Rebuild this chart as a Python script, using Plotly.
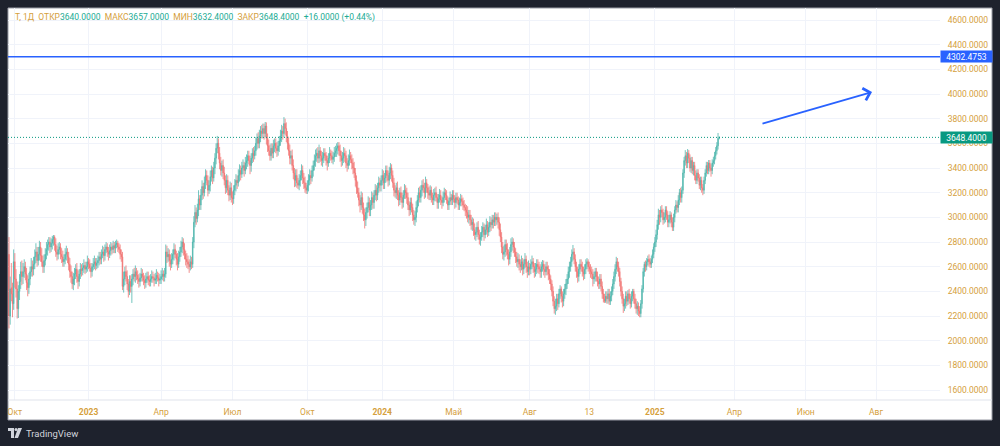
import plotly.graph_objects as go

# ---------------- data (daily candles, bar index based like TradingView) ----------------
open_ = [
    2700, 2200, 2430, 2380, 2300, 2640, 2500, 2420, 2260, 2400, 2480, 2560,
    2520, 2560, 2600, 2540, 2470, 2430, 2500, 2560, 2600,
    2580, 2620, 2680, 2720, 2650, 2700, 2760, 2690, 2640, 2600, 2650, 2700,
    2740, 2780, 2800, 2760, 2790, 2820, 2840, 2780, 2720, 2700, 2740, 2760, 2700, 2680, 2640, 2660, 2700, 2720,
    2680, 2620, 2560, 2520, 2460, 2500, 2540, 2580, 2520, 2480, 2540,
    2580, 2570, 2590, 2610, 2580, 2600, 2640, 2620, 2590, 2560, 2600, 2620, 2640, 2610, 2630, 2650, 2680,
    2660, 2700, 2720, 2690, 2740, 2760, 2720, 2700, 2730, 2760, 2740, 2770, 2750, 2780, 2790, 2760, 2740,
    2700, 2680, 2440, 2500, 2560, 2520, 2460, 2400, 2480, 2440,
    2500, 2540, 2520, 2560, 2530, 2500, 2480, 2510, 2540, 2520, 2490, 2470, 2500, 2520, 2490, 2480, 2500, 2520, 2510, 2490, 2500, 2530, 2510, 2490, 2500, 2520, 2540, 2520,
    2540, 2720, 2680, 2700, 2650, 2620, 2660, 2700, 2740, 2700, 2660, 2620, 2680, 2720, 2760, 2800, 2740, 2700, 2660, 2640, 2620, 2600, 2640,
    2620, 2800, 2960, 3040, 2990, 3060, 3150, 3100, 3180, 3250, 3200, 3280, 3340, 3300, 3220, 3260, 3330, 3380, 3320, 3400,
    3480, 3560, 3600, 3520, 3440, 3380, 3420, 3360, 3300, 3240, 3300, 3220, 3180, 3240, 3160,
    3150, 3220, 3260, 3300, 3280, 3340, 3380, 3350, 3400, 3420, 3380, 3440,
    3460, 3500, 3460, 3420, 3480, 3520, 3500, 3540,
    3600, 3640, 3600, 3660, 3700, 3680, 3720, 3680, 3740,
    3640, 3580, 3540, 3500, 3560, 3520, 3580, 3600, 3560, 3540,
    3580, 3620, 3660, 3700, 3680, 3760, 3720,
    3660, 3600, 3540, 3480, 3500, 3420, 3360, 3300, 3340, 3280, 3260,
    3300, 3340, 3380, 3320, 3280, 3240, 3220, 3260, 3300, 3340, 3320,
    3380, 3420, 3460, 3500, 3520, 3480, 3540, 3500, 3460, 3480, 3520, 3500, 3460, 3440, 3480, 3520, 3500, 3470, 3490, 3520, 3540,
    3560, 3580, 3540, 3500, 3460, 3480, 3520, 3500, 3440, 3420, 3460, 3500, 3470,
    3440, 3400, 3360, 3300, 3240, 3200, 3140, 3100, 3160, 3080, 3020, 2980,
    3040, 3080, 3120, 3060, 3100, 3160, 3120, 3180, 3220, 3180, 3240, 3280,
    3260, 3300, 3340, 3280, 3320, 3380, 3340, 3300, 3360, 3400, 3340, 3280, 3220,
    3200, 3240, 3180, 3140, 3200, 3160, 3120, 3180, 3220, 3200, 3160, 3100, 3060, 3120, 3080, 3020,
    2980, 3000, 3080, 3140, 3200, 3160, 3220, 3260, 3240, 3200, 3280, 3240, 3200, 3180, 3220, 3160, 3140,
    3180, 3200, 3160, 3120, 3150, 3180, 3140, 3120, 3160, 3200, 3180, 3140, 3100, 3130, 3160, 3140, 3180, 3150, 3120, 3160, 3140, 3100, 3120, 3150, 3130, 3100, 3080,
    3060, 3040, 3000, 3020, 2980, 2940, 2960, 2900, 2860, 2880, 2920, 2860, 2820, 2840, 2880, 2920, 2860, 2900, 2940, 2880, 2920, 2960, 2940, 2980, 2960,
    3000, 2980, 3000, 2960, 2900, 2840, 2760, 2700, 2720, 2780, 2740, 2700, 2660, 2720, 2780, 2800, 2760, 2720, 2680, 2640, 2660,
    2620, 2600, 2640, 2580, 2620, 2660, 2600, 2560, 2600, 2580, 2620, 2640, 2600, 2560, 2580, 2620, 2600, 2580,
    2560, 2600, 2620, 2580, 2560, 2600, 2580, 2540, 2500,
    2460, 2400, 2320, 2260,
    2280, 2340, 2300, 2380, 2420, 2360, 2320, 2380, 2420,
    2460, 2500, 2560, 2600, 2640, 2700,
    2720, 2660, 2600, 2560, 2520, 2580, 2620, 2600, 2560, 2540, 2580, 2620, 2640, 2600, 2580,
    2560, 2540, 2500, 2520, 2560, 2520, 2480, 2460,
    2500, 2440, 2380, 2340, 2320, 2360,
    2340, 2380, 2320, 2360,
    2400, 2460, 2520, 2580, 2640, 2600,
    2560, 2480, 2400, 2340, 2280, 2300, 2360,
    2320, 2380, 2340, 2300, 2360, 2400, 2340, 2300, 2260, 2280, 2240,
    2220, 2300, 2420, 2560, 2620, 2600,
    2640, 2660, 2640, 2620, 2660,
    2700, 2760, 2800, 2860, 2940, 3020,
    3000, 3060, 3040, 2980, 3000, 3060, 3020, 2960, 2980, 3020, 2960,
    2920, 3000, 3060, 3100, 3080, 3140, 3200, 3160,
    3220, 3360, 3460, 3500, 3440,
    3520, 3480, 3400, 3460, 3380, 3420, 3340, 3300,
    3360, 3320, 3260, 3300, 3240,
    3220, 3300, 3360, 3420, 3380, 3440, 3400, 3380, 3440,
    3460, 3500, 3540, 3580, 3640,
]

high = [
    2840, 2520, 2630, 2470, 2740, 2710, 2580, 2480, 2450, 2540, 2640, 2650,
    2630, 2660, 2640, 2590, 2530, 2550, 2600, 2670, 2650,
    2680, 2740, 2790, 2760, 2760, 2810, 2800, 2750, 2690, 2700, 2750, 2800,
    2820, 2840, 2840, 2830, 2850, 2857, 2855, 2830, 2770, 2790, 2800, 2790, 2750, 2730, 2700, 2750, 2770, 2750,
    2720, 2670, 2610, 2560, 2550, 2590, 2620, 2630, 2570, 2580, 2630,
    2620, 2630, 2660, 2640, 2640, 2690, 2670, 2660, 2630, 2630, 2670, 2690, 2670, 2670, 2690, 2720, 2720,
    2740, 2770, 2760, 2780, 2800, 2790, 2760, 2780, 2800, 2790, 2810, 2800, 2810, 2820, 2810, 2790, 2780,
    2740, 2720, 2560, 2600, 2610, 2570, 2500, 2530, 2530, 2540,
    2580, 2590, 2610, 2590, 2570, 2540, 2550, 2590, 2580, 2550, 2530, 2550, 2560, 2560, 2530, 2540, 2570, 2560, 2540, 2550, 2580, 2560, 2550, 2540, 2570, 2590, 2570, 2590,
    2780, 2770, 2750, 2740, 2700, 2710, 2740, 2790, 2780, 2730, 2710, 2730, 2760, 2810, 2840, 2830, 2790, 2730, 2710, 2690, 2660, 2690, 2680,
    2840, 3010, 3100, 3080, 3110, 3220, 3180, 3230, 3300, 3280, 3330, 3390, 3380, 3340, 3300, 3380, 3420, 3410, 3450, 3520,
    3600, 3660, 3640, 3570, 3490, 3460, 3470, 3410, 3340, 3350, 3340, 3260, 3290, 3280, 3210,
    3260, 3310, 3350, 3340, 3390, 3430, 3420, 3450, 3470, 3450, 3490, 3510,
    3540, 3540, 3500, 3520, 3560, 3570, 3580, 3650,
    3680, 3690, 3710, 3740, 3750, 3760, 3760, 3773, 3770,
    3680, 3630, 3590, 3600, 3600, 3630, 3640, 3640, 3610, 3620,
    3660, 3710, 3750, 3740, 3813, 3800, 3770,
    3700, 3650, 3590, 3540, 3550, 3470, 3400, 3390, 3390, 3320, 3350,
    3380, 3430, 3420, 3360, 3330, 3280, 3300, 3350, 3390, 3380, 3420,
    3460, 3510, 3550, 3560, 3570, 3590, 3570, 3540, 3530, 3560, 3560, 3530, 3500, 3520, 3570, 3550, 3540, 3530, 3570, 3580, 3600,
    3610, 3610, 3590, 3540, 3530, 3570, 3560, 3540, 3480, 3510, 3550, 3530, 3510,
    3480, 3450, 3400, 3340, 3290, 3240, 3180, 3210, 3200, 3120, 3070, 3080,
    3120, 3170, 3160, 3140, 3210, 3200, 3220, 3270, 3260, 3280, 3330, 3320,
    3340, 3390, 3380, 3360, 3420, 3420, 3380, 3410, 3440, 3430, 3380, 3320, 3260,
    3280, 3290, 3220, 3240, 3250, 3200, 3220, 3270, 3260, 3240, 3200, 3130, 3160, 3160, 3110, 3060,
    3050, 3130, 3180, 3240, 3250, 3260, 3300, 3310, 3280, 3330, 3310, 3270, 3250, 3260, 3250, 3200, 3230,
    3240, 3250, 3190, 3190, 3230, 3220, 3170, 3210, 3240, 3230, 3220, 3170, 3160, 3210, 3190, 3220, 3220, 3180, 3200, 3200, 3170, 3160, 3190, 3180, 3160, 3140, 3110,
    3100, 3090, 3060, 3060, 3020, 3000, 2990, 2950, 2920, 2960, 2970, 2900, 2880, 2930, 2960, 2950, 2940, 2990, 2970, 2960, 3010, 3000, 3020, 3020, 3040,
    3040, 3030, 3040, 3000, 2950, 2880, 2800, 2770, 2820, 2820, 2790, 2740, 2760, 2830, 2840, 2830, 2800, 2750, 2720, 2710, 2700,
    2660, 2690, 2670, 2660, 2710, 2690, 2640, 2650, 2630, 2660, 2690, 2670, 2630, 2630, 2660, 2660, 2640, 2620,
    2640, 2654, 2650, 2620, 2640, 2640, 2610, 2580, 2530,
    2490, 2440, 2360, 2340,
    2380, 2380, 2420, 2450, 2440, 2400, 2420, 2460, 2500,
    2540, 2600, 2640, 2680, 2740, 2776,
    2750, 2700, 2640, 2600, 2620, 2660, 2660, 2640, 2600, 2620, 2660, 2670, 2660, 2640, 2620,
    2600, 2580, 2560, 2590, 2590, 2560, 2520, 2540,
    2540, 2480, 2420, 2380, 2400, 2400,
    2420, 2420, 2400, 2440,
    2500, 2560, 2620, 2680, 2670, 2640,
    2590, 2510, 2440, 2380, 2340, 2400, 2400,
    2410, 2420, 2380, 2400, 2420, 2420, 2380, 2340, 2320, 2310, 2280,
    2330, 2450, 2590, 2640, 2650, 2670,
    2690, 2700, 2670, 2690, 2740,
    2790, 2840, 2900, 2980, 3070, 3060,
    3090, 3100, 3070, 3040, 3090, 3090, 3050, 3020, 3050, 3040, 3000,
    3030, 3090, 3140, 3130, 3180, 3230, 3240, 3250,
    3390, 3490, 3545, 3530, 3554,
    3545, 3510, 3490, 3490, 3450, 3450, 3380, 3390,
    3390, 3350, 3330, 3330, 3270,
    3330, 3390, 3450, 3450, 3465, 3465, 3430, 3470, 3490,
    3530, 3570, 3610, 3684, 3657,
]

low = [
    2100, 2130, 2320, 2190, 2250, 2430, 2350, 2180, 2184, 2330, 2420, 2450,
    2460, 2510, 2490, 2410, 2360, 2380, 2450, 2520, 2520,
    2530, 2580, 2630, 2600, 2610, 2650, 2640, 2600, 2550, 2550, 2610, 2660,
    2690, 2730, 2710, 2720, 2740, 2770, 2730, 2680, 2650, 2660, 2700, 2660, 2630, 2600, 2600, 2620, 2650, 2630,
    2570, 2510, 2470, 2420, 2410, 2450, 2500, 2470, 2420, 2440, 2500,
    2520, 2530, 2550, 2540, 2550, 2560, 2580, 2560, 2510, 2520, 2570, 2580, 2570, 2580, 2590, 2610, 2620,
    2620, 2670, 2640, 2650, 2710, 2680, 2650, 2670, 2690, 2700, 2710, 2710, 2710, 2750, 2720, 2710, 2660,
    2640, 2410, 2390, 2450, 2480, 2410, 2350, 2370, 2390, 2306,
    2450, 2480, 2470, 2490, 2460, 2430, 2440, 2480, 2480, 2450, 2420, 2430, 2470, 2450, 2440, 2440, 2470, 2470, 2440, 2460, 2460, 2480, 2440, 2460, 2460, 2490, 2480, 2480,
    2510, 2630, 2640, 2600, 2570, 2590, 2620, 2650, 2670, 2610, 2570, 2590, 2640, 2680, 2710, 2690, 2660, 2610, 2590, 2580, 2550, 2570, 2580,
    2590, 2750, 2920, 2940, 2960, 3010, 3060, 3060, 3140, 3150, 3170, 3230, 3260, 3170, 3190, 3210, 3290, 3270, 3290, 3350,
    3430, 3520, 3470, 3390, 3340, 3330, 3310, 3260, 3190, 3200, 3180, 3130, 3140, 3120, 3100,
    3110, 3180, 3210, 3230, 3250, 3290, 3300, 3320, 3350, 3330, 3350, 3390,
    3410, 3430, 3350, 3370, 3440, 3450, 3470, 3500,
    3550, 3560, 3560, 3610, 3640, 3640, 3630, 3650, 3590,
    3530, 3500, 3460, 3460, 3480, 3480, 3530, 3520, 3490, 3500,
    3530, 3580, 3610, 3630, 3650, 3670, 3610,
    3550, 3500, 3430, 3430, 3380, 3310, 3245, 3250, 3240, 3230, 3220,
    3250, 3300, 3270, 3230, 3200, 3190, 3190, 3210, 3260, 3270, 3290,
    3330, 3380, 3410, 3450, 3440, 3440, 3450, 3420, 3410, 3440, 3460, 3420, 3380, 3410, 3440, 3460, 3440, 3430, 3450, 3490, 3490,
    3510, 3500, 3450, 3410, 3420, 3440, 3450, 3400, 3370, 3390, 3420, 3440, 3390,
    3350, 3320, 3250, 3190, 3160, 3090, 3040, 3060, 3030, 2970, 2910, 2930,
    2990, 3040, 3010, 3010, 3060, 3070, 3070, 3140, 3130, 3140, 3200, 3210,
    3210, 3260, 3230, 3230, 3280, 3290, 3250, 3260, 3310, 3290, 3240, 3170, 3160,
    3150, 3140, 3090, 3100, 3120, 3070, 3080, 3150, 3150, 3110, 3060, 3010, 3020, 3040, 2970, 2940,
    2930, 2960, 3040, 3090, 3120, 3120, 3170, 3200, 3150, 3160, 3200, 3150, 3140, 3140, 3120, 3100, 3100,
    3130, 3130, 3070, 3070, 3120, 3100, 3070, 3090, 3120, 3140, 3110, 3060, 3060, 3100, 3100, 3100, 3120, 3070, 3080, 3110, 3060, 3060, 3090, 3090, 3060, 3050, 3010,
    2990, 2960, 2950, 2930, 2900, 2890, 2850, 2820, 2810, 2840, 2820, 2780, 2770, 2810, 2840, 2810, 2830, 2860, 2840, 2850, 2880, 2890, 2910, 2910, 2930,
    2930, 2940, 2910, 2850, 2800, 2710, 2660, 2650, 2680, 2690, 2660, 2610, 2620, 2680, 2730, 2710, 2680, 2630, 2600, 2590, 2570,
    2550, 2570, 2530, 2540, 2590, 2550, 2510, 2530, 2530, 2540, 2580, 2550, 2510, 2520, 2540, 2550, 2540, 2510,
    2510, 2560, 2530, 2510, 2530, 2530, 2490, 2460, 2410,
    2360, 2280, 2220, 2210,
    2240, 2250, 2270, 2340, 2310, 2270, 2280, 2340, 2370,
    2420, 2460, 2510, 2560, 2600, 2650,
    2620, 2560, 2510, 2470, 2480, 2540, 2560, 2520, 2490, 2500, 2540, 2580, 2560, 2540, 2510,
    2500, 2440, 2460, 2480, 2480, 2440, 2420, 2420,
    2400, 2340, 2310, 2306, 2306, 2300,
    2300, 2290, 2290, 2320,
    2370, 2420, 2480, 2540, 2560, 2520,
    2440, 2360, 2300, 2225, 2240, 2260, 2280,
    2290, 2300, 2260, 2270, 2320, 2300, 2260, 2220, 2210, 2200, 2190,
    2190, 2260, 2390, 2520, 2560, 2570,
    2610, 2600, 2590, 2590, 2630,
    2670, 2720, 2760, 2820, 2900, 2940,
    2960, 3000, 2940, 2950, 2960, 2980, 2920, 2920, 2950, 2920, 2890,
    2890, 2960, 3030, 3040, 3040, 3100, 3120, 3120,
    3190, 3320, 3420, 3400, 3400,
    3440, 3370, 3360, 3350, 3340, 3300, 3270, 3270,
    3290, 3230, 3220, 3200, 3180,
    3190, 3270, 3330, 3350, 3350, 3370, 3330, 3350, 3410,
    3430, 3470, 3510, 3550, 3632.4,
]

close = [
    2200, 2420, 2380, 2300, 2640, 2500, 2420, 2260, 2400, 2480, 2560, 2520,
    2560, 2600, 2540, 2470, 2430, 2500, 2560, 2600, 2580,
    2620, 2680, 2720, 2650, 2700, 2760, 2690, 2640, 2600, 2650, 2700, 2740,
    2780, 2800, 2760, 2790, 2820, 2840, 2780, 2720, 2700, 2740, 2760, 2700, 2680, 2640, 2660, 2700, 2720, 2680,
    2620, 2560, 2520, 2460, 2500, 2540, 2580, 2520, 2480, 2540, 2580,
    2570, 2590, 2610, 2580, 2600, 2640, 2620, 2590, 2560, 2600, 2620, 2640, 2610, 2630, 2650, 2680, 2660,
    2700, 2720, 2690, 2740, 2760, 2720, 2700, 2730, 2760, 2740, 2770, 2750, 2780, 2790, 2760, 2740, 2700,
    2680, 2440, 2500, 2560, 2520, 2460, 2400, 2480, 2440, 2500,
    2540, 2520, 2560, 2530, 2500, 2480, 2510, 2540, 2520, 2490, 2470, 2500, 2520, 2490, 2480, 2500, 2520, 2510, 2490, 2500, 2530, 2510, 2490, 2500, 2520, 2540, 2520, 2540,
    2720, 2680, 2700, 2650, 2620, 2660, 2700, 2740, 2700, 2660, 2620, 2680, 2720, 2760, 2800, 2740, 2700, 2660, 2640, 2620, 2600, 2640, 2620,
    2800, 2960, 3040, 2990, 3060, 3150, 3100, 3180, 3250, 3200, 3280, 3340, 3300, 3220, 3260, 3330, 3380, 3320, 3400, 3480,
    3560, 3600, 3520, 3440, 3380, 3420, 3360, 3300, 3240, 3300, 3220, 3180, 3240, 3160, 3150,
    3220, 3260, 3300, 3280, 3340, 3380, 3350, 3400, 3420, 3380, 3440, 3460,
    3500, 3460, 3420, 3480, 3520, 3500, 3540, 3600,
    3640, 3600, 3660, 3700, 3680, 3720, 3680, 3740, 3640,
    3580, 3540, 3500, 3560, 3520, 3580, 3600, 3560, 3540, 3580,
    3620, 3660, 3700, 3680, 3760, 3720, 3660,
    3600, 3540, 3480, 3500, 3420, 3360, 3300, 3340, 3280, 3260, 3300,
    3340, 3380, 3320, 3280, 3240, 3220, 3260, 3300, 3340, 3320, 3380,
    3420, 3460, 3500, 3520, 3480, 3540, 3500, 3460, 3480, 3520, 3500, 3460, 3440, 3480, 3520, 3500, 3470, 3490, 3520, 3540, 3560,
    3580, 3540, 3500, 3460, 3480, 3520, 3500, 3440, 3420, 3460, 3500, 3470, 3440,
    3400, 3360, 3300, 3240, 3200, 3140, 3100, 3160, 3080, 3020, 2980, 3040,
    3080, 3120, 3060, 3100, 3160, 3120, 3180, 3220, 3180, 3240, 3280, 3260,
    3300, 3340, 3280, 3320, 3380, 3340, 3300, 3360, 3400, 3340, 3280, 3220, 3200,
    3240, 3180, 3140, 3200, 3160, 3120, 3180, 3220, 3200, 3160, 3100, 3060, 3120, 3080, 3020, 2980,
    3000, 3080, 3140, 3200, 3160, 3220, 3260, 3240, 3200, 3280, 3240, 3200, 3180, 3220, 3160, 3140, 3180,
    3200, 3160, 3120, 3150, 3180, 3140, 3120, 3160, 3200, 3180, 3140, 3100, 3130, 3160, 3140, 3180, 3150, 3120, 3160, 3140, 3100, 3120, 3150, 3130, 3100, 3080, 3060,
    3040, 3000, 3020, 2980, 2940, 2960, 2900, 2860, 2880, 2920, 2860, 2820, 2840, 2880, 2920, 2860, 2900, 2940, 2880, 2920, 2960, 2940, 2980, 2960, 3000,
    2980, 3000, 2960, 2900, 2840, 2760, 2700, 2720, 2780, 2740, 2700, 2660, 2720, 2780, 2800, 2760, 2720, 2680, 2640, 2660, 2620,
    2600, 2640, 2580, 2620, 2660, 2600, 2560, 2600, 2580, 2620, 2640, 2600, 2560, 2580, 2620, 2600, 2580, 2560,
    2600, 2620, 2580, 2560, 2600, 2580, 2540, 2500, 2460,
    2400, 2320, 2260, 2280,
    2340, 2300, 2380, 2420, 2360, 2320, 2380, 2420, 2460,
    2500, 2560, 2600, 2640, 2700, 2720,
    2660, 2600, 2560, 2520, 2580, 2620, 2600, 2560, 2540, 2580, 2620, 2640, 2600, 2580, 2560,
    2540, 2500, 2520, 2560, 2520, 2480, 2460, 2500,
    2440, 2380, 2340, 2320, 2360, 2340,
    2380, 2320, 2360, 2400,
    2460, 2520, 2580, 2640, 2600, 2560,
    2480, 2400, 2340, 2280, 2300, 2360, 2320,
    2380, 2340, 2300, 2360, 2400, 2340, 2300, 2260, 2280, 2240, 2220,
    2300, 2420, 2560, 2620, 2600, 2640,
    2660, 2640, 2620, 2660, 2700,
    2760, 2800, 2860, 2940, 3020, 3000,
    3060, 3040, 2980, 3000, 3060, 3020, 2960, 2980, 3020, 2960, 2920,
    3000, 3060, 3100, 3080, 3140, 3200, 3160, 3220,
    3360, 3460, 3500, 3440, 3520,
    3480, 3400, 3460, 3380, 3420, 3340, 3300, 3360,
    3320, 3260, 3300, 3240, 3220,
    3300, 3360, 3420, 3380, 3440, 3400, 3380, 3440, 3460,
    3500, 3540, 3580, 3640, 3648.4,
]

bars = list(range(len(close)))

# time-axis labels (bar index where each label sits, future bars extend the index)
tick_bars = [5, 68, 130, 191, 255, 319, 380, 445, 496, 552, 620, 681, 741]
tick_labels = ["Окт", "<b>2023</b>", "Апр", "Июл", "Окт", "<b>2024</b>", "Май", "Авг",
               "13", "<b>2025</b>", "Апр", "Июн", "Авг"]
price_ticks = [1600, 1800, 2000, 2200, 2400, 2600, 2800, 3000, 3200,
               3400, 3600, 3800, 4000, 4200, 4400, 4600]

level_price = 4302.4753
last_open, last_high, last_low, last_close = 3640.0, 3657.0, 3632.4, 3648.4
change_abs, change_pct = 16.0, 0.44

# hand-drawn arrow (start bar/price -> tip bar/price)
arrow_start = (642.7, 3757)
arrow_tip = (737.6, 4016)

# ---------------- styling ----------------
FRAME = "#1e222d"
GOLD = "#d5a03c"
TEAL = "#22ab94"
UP = "#26a69a"
DOWN = "#ef5350"
BLUE = "#2962ff"
GRID = "#f0f3fa"
FONT = "Roboto"
FS = 8.5

fig = go.Figure()
fig.add_trace(go.Candlestick(
    x=bars, open=open_, high=high, low=low, close=close,
    increasing=dict(line=dict(color=UP, width=0.8), fillcolor=UP),
    decreasing=dict(line=dict(color=DOWN, width=0.8), fillcolor=DOWN),
    whiskerwidth=0, hoverinfo="skip", showlegend=False, opacity=0.8,
))

# white chart panel (incl. price & time scales) on dark frame
fig.add_shape(type="rect", xref="paper", yref="paper", x0=0, x1=1.0558, y0=-0.051, y1=1,
              fillcolor="white", line=dict(color="#9a9da6", width=1), layer="below")
# separator between pane and time scale
fig.add_shape(type="line", xref="paper", yref="paper", x0=0, x1=1.0558, y0=0, y1=0,
              line=dict(color="#e0e3eb", width=1), layer="above")
# horizontal level line
fig.add_shape(type="line", xref="paper", yref="y", x0=0, x1=1, y0=level_price, y1=level_price,
              line=dict(color=BLUE, width=1.5), layer="above")
# last price dotted line
fig.add_shape(type="line", xref="paper", yref="y", x0=0, x1=1, y0=last_close, y1=last_close,
              line=dict(color="#089981", width=1, dash="1px,2px"), layer="above")

# arrow
fig.add_annotation(x=arrow_tip[0], y=arrow_tip[1], ax=arrow_start[0], ay=arrow_start[1],
                   xref="x", yref="y", axref="x", ayref="y", text="", showarrow=True,
                   arrowhead=4, arrowsize=1.35, arrowwidth=1.8, arrowcolor=BLUE, standoff=0)

# price scale labels
fig.add_annotation(x=1, xref="paper", y=level_price, yref="y", xanchor="left", yanchor="middle",
                   text=f"{level_price:.4f}", showarrow=False, bgcolor=BLUE, width=51, height=11,
                   borderpad=0, align="center", font=dict(family=FONT, size=FS, color="white"))
fig.add_annotation(x=1, xref="paper", y=last_close, yref="y", xanchor="left", yanchor="middle",
                   text=f"{last_close:.4f}", showarrow=False, bgcolor="#089981", width=51, height=11,
                   borderpad=0, align="center", font=dict(family=FONT, size=FS, color="white"))

# legend / OHLC header
sp = "\u00a0\u00a0"
def g(t):
    return f"<span style='color:{GOLD}'>{t}</span>"
def v(t):
    return f"<span style='color:{TEAL}'>{t}</span>"
header = (g("Т, 1Д") + sp + g("ОТКР") + v(f"{last_open:.4f}") + sp + g("МАКС") + v(f"{last_high:.4f}")
          + sp + g("МИН") + v(f"{last_low:.4f}") + sp + g("ЗАКР") + v(f"{last_close:.4f}") + sp
          + v(f"+{change_abs:.4f} (+{change_pct:.2f}%)"))
fig.add_annotation(x=0.0054, y=0.9758, xref="paper", yref="paper", xanchor="left", yanchor="middle",
                   text=header, showarrow=False, font=dict(family=FONT, size=FS, color=GOLD))

# TradingView watermark (logo + text)
fig.add_shape(type="rect", xref="paper", yref="paper", x0=(8 - 8) / 932, x1=(14 - 8) / 932,
              y0=(400 - 431) / 392, y1=(400 - 428) / 392, fillcolor="#d1d4dc", line_width=0)
fig.add_shape(type="rect", xref="paper", yref="paper", x0=(11 - 8) / 932, x1=(14 - 8) / 932,
              y0=(400 - 438) / 392, y1=(400 - 428) / 392, fillcolor="#d1d4dc", line_width=0)
fig.add_shape(type="circle", xref="paper", yref="paper", x0=(14.5 - 8) / 932, x1=(17.5 - 8) / 932,
              y0=(400 - 431) / 392, y1=(400 - 428) / 392, fillcolor="#d1d4dc", line_width=0)
fig.add_shape(type="path", xref="paper", yref="paper",
              path=f"M {(18 - 8) / 932},{(400 - 428) / 392} L {(22 - 8) / 932},{(400 - 428) / 392} "
                   f"L {(18 - 8) / 932},{(400 - 438) / 392} L {(14.5 - 8) / 932},{(400 - 438) / 392} Z",
              fillcolor="#d1d4dc", line_width=0)
fig.add_annotation(x=(24 - 8) / 932, y=(400 - 433) / 392, xref="paper", yref="paper",
                   xanchor="left", yanchor="middle", text="TradingView", showarrow=False,
                   font=dict(family=FONT, size=9.5, color="#d1d4dc"))

fig.update_layout(
    width=1000, height=446,
    margin=dict(l=8, r=60, t=8, b=46, pad=0),
    paper_bgcolor=FRAME, plot_bgcolor="white",
    hovermode=False, showlegend=False,
    font=dict(family=FONT, size=FS, color=GOLD),
    xaxis=dict(range=[-0.85, 795.7], rangeslider=dict(visible=False), tickmode="array",
               tickvals=tick_bars, ticktext=tick_labels, showgrid=True, gridcolor=GRID,
               gridwidth=1, zeroline=False, showline=False, ticks="outside", ticklen=4,
               tickcolor="rgba(0,0,0,0)", tickfont=dict(family=FONT, size=FS, color=GOLD),
               fixedrange=True),
    yaxis=dict(range=[1519.3, 4697.3], side="right", tickmode="array", tickvals=price_ticks,
               ticktext=[f"{p:.4f}" for p in price_ticks], showgrid=True, gridcolor=GRID,
               gridwidth=1, zeroline=False, showline=False, ticks="outside", ticklen=5,
               tickcolor="rgba(0,0,0,0)", tickfont=dict(family=FONT, size=FS, color=GOLD),
               fixedrange=True),
)

fig.write_html("out.html", config={"displayModeBar": False, "staticPlot": True})
